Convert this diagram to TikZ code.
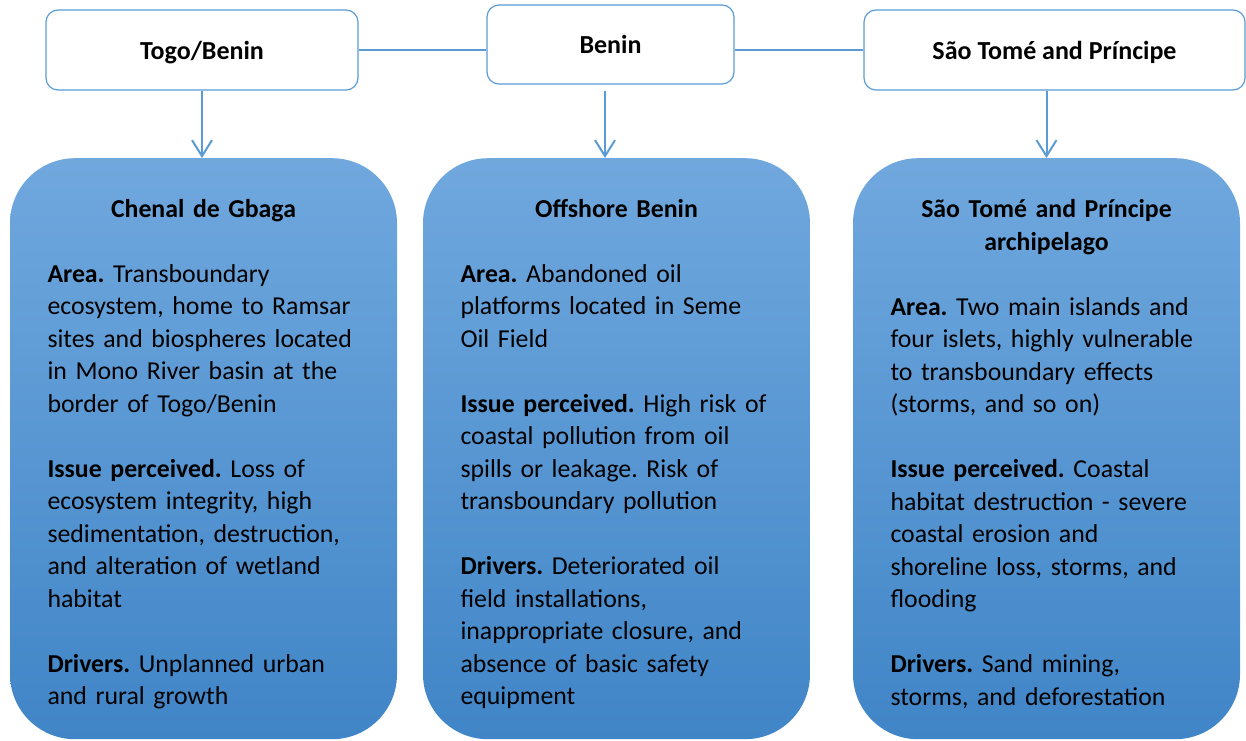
\documentclass[tikz,border=0pt]{standalone}
\usepackage{fontspec}
\setmainfont{Carlito}
\usepackage{tikz}
\usetikzlibrary{positioning,calc,arrows.meta}
\definecolor{lineblue}{RGB}{91,155,213}
\definecolor{topblue}{RGB}{112,168,222}
\definecolor{botblue}{RGB}{64,133,199}
\newcommand{\skipline}{\\[32.5pt]}
\newcommand{\topstrut}{\rule{0pt}{29pt}}
\frenchspacing

\begin{document}
\begin{tikzpicture}[
	x=1pt, y=-1pt,
	>={Straight Barb[length=16pt,width=20pt]},
	country/.style={draw=lineblue, line width=1.2pt, fill=white, rounded corners=12pt, text depth=0pt, font=\fontsize{26pt}{32.5pt}\selectfont\bfseries},
	site/.style={rounded corners=65pt, top color=topblue, bottom color=botblue, text width=312pt, inner xsep=37.5pt, inner ysep=0pt, minimum height=581pt, font=\fontsize{25.8pt}{32.5pt}\selectfont, text=black},
	link/.style={draw=lineblue, line width=2pt}]
	\useasboundingbox (0,0) rectangle (1246,740);
	\node[country, minimum width=312pt, minimum height=80pt] (togo) at (202,50) {Togo/Benin};
	\node[country, minimum width=247pt, minimum height=79pt] (benin) at (610.5,44.5) {Benin};
	\node[country, minimum width=381pt, minimum height=80pt] (stp) at (1054.5,50) {São Tomé and Príncipe};
	\node[site, anchor=north] (siteA) at (203.5,158) {\centering\topstrut\textbf{Chenal de Gbaga}\par\vspace{32.5pt}\raggedright
		\textbf{Area.} Transboundary\\ecosystem, home to Ramsar\\sites and biospheres located\\in Mono River basin at the\\border of Togo/Benin\skipline
		\textbf{Issue perceived.} Loss of\\ecosystem integrity, high\\sedimentation, destruction,\\and alteration of wetland\\habitat\skipline
		\textbf{Drivers.} Unplanned urban\\and rural growth};
	\node[site, anchor=north] (siteB) at (616.5,158) {\centering\topstrut\textbf{Offshore Benin}\par\vspace{32.5pt}\raggedright
		\textbf{Area.} Abandoned oil\\platforms located in Seme\\Oil Field\skipline
		\textbf{Issue perceived.} High risk of\\coastal pollution from oil\\spills or leakage. Risk of\\transboundary pollution\skipline
		\textbf{Drivers.} Deteriorated oil\\field installations,\\inappropriate closure, and\\absence of basic safety\\equipment};
	\node[site, anchor=north] (siteC) at (1046.5,158) {\centering\topstrut\textbf{São Tomé and Príncipe\\archipelago}\par\vspace{32.5pt}\raggedright
		\textbf{Area.} Two main islands and\\four islets, highly vulnerable\\to transboundary effects\\(storms, and so on)\skipline
		\textbf{Issue perceived.} Coastal\\habitat destruction - severe\\coastal erosion and\\shoreline loss, storms, and\\flooding\skipline
		\textbf{Drivers.} Sand mining,\\storms, and deforestation};
	\draw[link] (togo.east) -- (togo.east -| benin.west);
	\draw[link] (benin.east |- stp.west) -- (stp.west);
	\draw[link,->] (togo.south) -- (togo.south |- siteA.north);
	\draw[link,->] ([xshift=-5.5pt]benin.south |- togo.south) -- ([xshift=-5.5pt]benin.south |- siteB.north);
	\draw[link,->] (siteC.north |- stp.south) -- (siteC.north);
\end{tikzpicture}
\end{document}
